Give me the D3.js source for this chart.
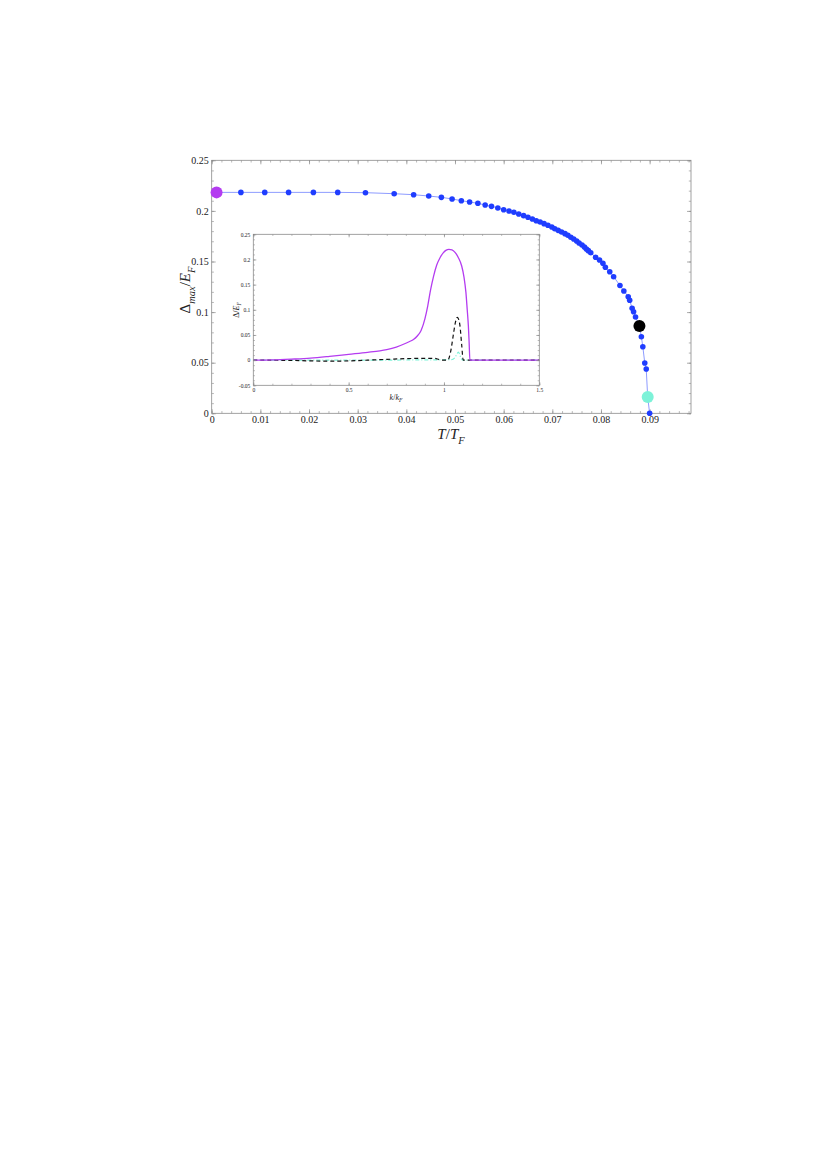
<!DOCTYPE html>
<html>
<head>
<meta charset="utf-8">
<script src="https://cdn.jsdelivr.net/npm/d3@7"></script>
<style>
  body { margin: 0; background: #fff; }
  text { font-family: "Liberation Serif", "DejaVu Serif", serif; fill: #222; }
</style>
</head>
<body>
<div id="chart"></div>
<script>
// main panel: gap maximum vs temperature
const tempT = [0.0060,0.0109,0.0158,0.0209,0.0259,0.0316,0.0375,0.0415,0.0446,0.0472,0.0494,0.0513,0.0530,0.0547,0.0562,0.0575,0.0588,0.0600,0.0611,0.0621,0.0631,0.0641,0.0650,0.0659,0.0667,0.0675,0.0683,0.0691,0.0699,0.0705,0.0712,0.0719,0.0726,0.0732,0.0738,0.0744,0.0750,0.0755,0.0761,0.0766,0.0770,0.0774,0.0779,0.0789,0.0797,0.0804,0.0809,0.0818,0.0826,0.0839,0.0847,0.0856,0.0859,0.0864,0.0867,0.0871,0.0879,0.0883,0.0886,0.0890,0.0893,0.0896,0.0900];
const gapMax = [0.2183,0.2183,0.2183,0.2183,0.2183,0.2180,0.2170,0.2160,0.2147,0.2134,0.2118,0.2101,0.2088,0.2075,0.2058,0.2045,0.2029,0.2012,0.1999,0.1986,0.1969,0.1953,0.1937,0.1920,0.1903,0.1890,0.1874,0.1858,0.1841,0.1824,0.1808,0.1792,0.1775,0.1759,0.1739,0.1722,0.1703,0.1683,0.1663,0.1643,0.1623,0.1607,0.1587,0.1542,0.1515,0.1482,0.1443,0.1399,0.1350,0.1263,0.1209,0.1152,0.1117,0.1038,0.1003,0.0952,0.0863,0.0757,0.0658,0.0497,0.0438,0.0161,0.0];

// highlighted temperatures (match the inset curves)
const markT = [0.0010, 0.0879, 0.0896];
const markGap = [0.2183, 0.0863, 0.0161];
const markColor = ["#b43cf0", "#000000", "#7df2d8"];

const mainXTicks = [0, 0.01, 0.02, 0.03, 0.04, 0.05, 0.06, 0.07, 0.08, 0.09];
const mainYTicks = [0, 0.05, 0.1, 0.15, 0.2, 0.25];

// inset: gap vs momentum
const kPurple = [0,0.1,0.2,0.3,0.4,0.5,0.6,0.664,0.7,0.75,0.8,0.82,0.84,0.86,0.88,0.9,0.915,0.93,0.945,0.962,0.98,0.996,1.01,1.026,1.042,1.058,1.075,1.093,1.105,1.115,1.122,1.128,1.132,1.136,1.5];
const gapPurple = [0,0.0005,0.002,0.004,0.0075,0.0115,0.0155,0.0185,0.021,0.026,0.0335,0.037,0.041,0.048,0.059,0.082,0.108,0.140,0.166,0.189,0.204,0.213,0.218,0.220,0.219,0.214,0.204,0.187,0.165,0.135,0.10,0.068,0.035,0,0];

const kBlack = [0,0.2,0.3,0.4,0.5,0.6,0.7,0.8,0.9,0.95,0.975,0.99,1.02,1.035,1.049,1.06,1.07,1.078,1.084,1.093,1.101,1.12,1.5];
const gapBlack = [0,-0.0005,-0.0015,-0.002,-0.0015,0,0.0015,0.003,0.0035,0.0035,0.001,0,0,0.017,0.05,0.075,0.085,0.08,0.068,0.03,0,0,0];

const kCyan = [0,0.5,0.9,1.04,1.055,1.068,1.075,1.082,1.09,1.1,1.5];
const gapCyan = [0,0,0.0005,0.001,0.004,0.012,0.016,0.012,0.003,0,0];

const insetXTicks = [0, 0.5, 1, 1.5];
const insetYTicks = [-0.05, 0, 0.05, 0.1, 0.15, 0.2, 0.25];

const W = 817, H = 1155;
const fmt = d => String(+d.toFixed(3));
const frameColor = "#8a8a8a";

const svg = d3.select("#chart").append("svg")
    .attr("width", W)
    .attr("height", H)
    .style("background", "#fff");

// frame with inward ticks on all four sides
function drawFrame(g, x, y, opt) {
    const w = x.range()[1] - x.range()[0];
    const h = y.range()[0] - y.range()[1];
    const xMinor = d3.range(x.domain()[0], x.domain()[1] + 1e-9, opt.xMinor);
    const yMinor = d3.range(y.domain()[0], y.domain()[1] + 1e-9, opt.yMinor);

    const sides = [
        [d3.axisBottom(x), `translate(0,${h})`, opt.xTicks, xMinor, true],
        [d3.axisTop(x), "translate(0,0)", opt.xTicks, xMinor, false],
        [d3.axisLeft(y), "translate(0,0)", opt.yTicks, yMinor, true],
        [d3.axisRight(y), `translate(${w},0)`, opt.yTicks, yMinor, false]
    ];
    sides.forEach(([ax, tr, major, minor, labels]) => {
        const gm = g.append("g").attr("transform", tr)
            .call(ax.tickValues(minor).tickSize(-opt.minorLen).tickFormat(""));
        gm.select(".domain").remove();
        gm.selectAll("line").attr("stroke", frameColor).attr("stroke-width", 0.6);

        const gM = g.append("g").attr("transform", tr)
            .call(ax.tickValues(major).tickSize(-opt.majorLen)
                .tickPadding(opt.pad)
                .tickFormat(labels ? fmt : ""));
        gM.select(".domain").remove();
        gM.selectAll("line").attr("stroke", frameColor).attr("stroke-width", 0.7);
        gM.selectAll("text")
            .style("font-family", "'Liberation Serif', serif")
            .style("font-size", opt.fontSize + "px")
            .attr("fill", "#333");
    });

    g.append("rect")
        .attr("width", w).attr("height", h)
        .attr("fill", "none")
        .attr("stroke", frameColor)
        .attr("stroke-width", 0.8);
}

// ---------- main panel ----------
const main = { left: 211.7, top: 160.3, right: 691, bottom: 413.3 };
const xMain = d3.scaleLinear().domain([0, 0.0985]).range([0, main.right - main.left]);
const yMain = d3.scaleLinear().domain([0, 0.25]).range([main.bottom - main.top, 0]);

const gMain = svg.append("g").attr("transform", `translate(${main.left},${main.top})`);

drawFrame(gMain, xMain, yMain, {
    xTicks: mainXTicks, yTicks: mainYTicks,
    xMinor: 0.002, yMinor: 0.01,
    majorLen: 4, minorLen: 2.2, pad: 3, fontSize: 10
});

// ---------- inset ----------
const ins = { left: 253.3, top: 234.3, right: 539.3, bottom: 385.3 };
const xIn = d3.scaleLinear().domain([0, 1.5]).range([0, ins.right - ins.left]);
const yIn = d3.scaleLinear().domain([-0.05, 0.25]).range([ins.bottom - ins.top, 0]);

const gIn = svg.append("g").attr("transform", `translate(${ins.left},${ins.top})`);
gIn.append("rect")
    .attr("width", ins.right - ins.left)
    .attr("height", ins.bottom - ins.top)
    .attr("fill", "#fff");

const lineIn = d3.line().x(d => xIn(d[0])).y(d => yIn(d[1])).curve(d3.curveMonotoneX);

gIn.append("path")
    .datum(d3.zip(kCyan, gapCyan))
    .attr("d", lineIn)
    .attr("fill", "none")
    .attr("stroke", "#7df2d8")
    .attr("stroke-width", 1.2)
    .attr("stroke-dasharray", "4,2,1,2");

gIn.append("path")
    .datum(d3.zip(kBlack, gapBlack))
    .attr("d", lineIn)
    .attr("fill", "none")
    .attr("stroke", "#111")
    .attr("stroke-width", 1.2)
    .attr("stroke-dasharray", "4,3");

gIn.append("path")
    .datum(d3.zip(kPurple, gapPurple))
    .attr("d", lineIn)
    .attr("fill", "none")
    .attr("stroke", "#b43cf0")
    .attr("stroke-width", 1.3);

drawFrame(gIn, xIn, yIn, {
    xTicks: insetXTicks, yTicks: insetYTicks,
    xMinor: 0.1, yMinor: 0.01,
    majorLen: 3, minorLen: 1.6, pad: 3, fontSize: 5.5
});

// ---------- main data ----------
const series = [[markT[0], markGap[0]]].concat(d3.zip(tempT, gapMax));
const lineMain = d3.line().x(d => xMain(d[0])).y(d => yMain(d[1]));

gMain.append("path")
    .datum(series)
    .attr("d", lineMain)
    .attr("fill", "none")
    .attr("stroke", "#8e9cff")
    .attr("stroke-width", 1);

gMain.selectAll(".pt")
    .data(d3.zip(tempT, gapMax))
    .join("circle")
    .attr("class", "pt")
    .attr("cx", d => xMain(d[0]))
    .attr("cy", d => yMain(d[1]))
    .attr("r", 2.8)
    .attr("fill", "#1f3dff");

gMain.selectAll(".mark")
    .data(d3.zip(markT, markGap, markColor))
    .join("circle")
    .attr("class", "mark")
    .attr("cx", d => xMain(d[0]))
    .attr("cy", d => yMain(d[1]))
    .attr("r", 6)
    .attr("fill", d => d[2]);

// ---------- axis labels ----------
function mathLabel(parent, x, y, size, rotate, parts) {
    const t = parent.append("text")
        .attr("transform", `translate(${x},${y}) rotate(${rotate})`)
        .attr("text-anchor", "middle")
        .style("font-size", size + "px");
    parts.forEach(p => {
        const s = t.append("tspan").text(p.t);
        if (p.i) s.style("font-style", "italic");
        if (p.sub) s.attr("dy", size * 0.3).style("font-size", (size * 0.7) + "px");
        if (p.up) s.attr("dy", -size * 0.3);
    });
    return t;
}

mathLabel(svg, 451, 439, 15, 0, [
    { t: "T", i: true }, { t: "/" }, { t: "T", i: true }, { t: "F", i: true, sub: true }
]);
mathLabel(svg, 190, 290, 15, -90, [
    { t: "Δ" }, { t: "max", i: true, sub: true }, { t: "/", up: true }, { t: "E", i: true }, { t: "F", i: true, sub: true }
]);
mathLabel(svg, 396, 400, 8, 0, [
    { t: "k", i: true }, { t: "/" }, { t: "k", i: true }, { t: "F", i: true, sub: true }
]);
mathLabel(svg, 239, 310, 8, -90, [
    { t: "Δ" }, { t: "/" }, { t: "E", i: true }, { t: "F", i: true, sub: true }
]);
</script>
</body>
</html>
